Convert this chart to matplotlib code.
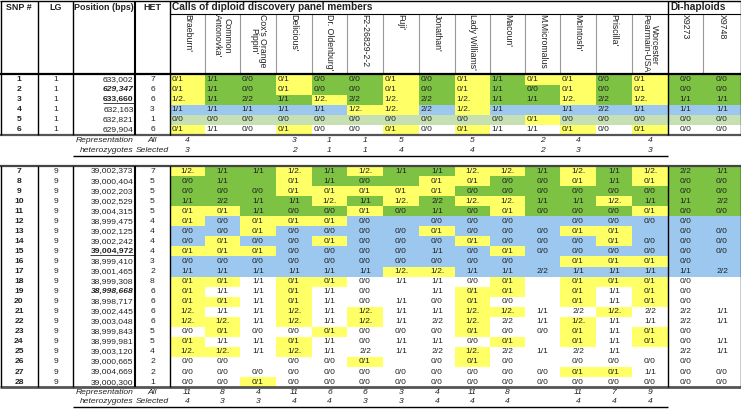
import matplotlib
matplotlib.use("Agg")
import matplotlib.pyplot as plt
from matplotlib.patches import Rectangle

plt.rcParams['font.family'] = ['Liberation Sans Narrow', 'Liberation Sans', 'DejaVu Sans']

# ── data ──────────────────────────────────────────────────────────────────────
cultivars = ["Braeburn'", "Common\nAntonovka'", "Cox's Orange\nPippin'", "Delicious'",
             "Dr. Oldenburg'", "F2-26829-2-2", "Fuji'", "Jonathan'", "Lady Williams'",
             "Macoun'", "M.Micromalus", "McIntosh'", "Priscilla'", "Worcester\nPearmain-USA'"]
dihaploids = ["X9273", "X9748"]

top_snp = [1, 2, 3, 4, 5, 6]
top_lg = [1, 1, 1, 1, 1, 1]
top_pos = ["633,002", "629,347", "633,660", "632,163", "632,821", "629,904"]
top_het = [7, 6, 6, 3, 1, 6]
top_group = ["green", "green", "green", "blue", "pale", "white"]
top_calls = [
    ["0/1", "1/1", "0/0", "0/1", "0/0", "0/0", "0/1", "0/0", "0/1", "1/1", "0/1", "0/1", "0/0", "0/1", "0/0", "0/0"],
    ["0/1", "1/1", "0/0", "0/1", "0/0", "0/0", "0/1", "0/0", "0/1", "1/1", "0/0", "0/1", "0/0", "0/1", "0/0", "0/0"],
    ["1/2.", "1/1", "2/2", "1/1", "1/2.", "2/2", "1/2.", "2/2", "1/2.", "1/1", "1/1", "1/2.", "2/2", "1/2.", "1/1", "1/1"],
    ["1/1", "1/1", "1/1", "1/1", "1/1", "1/2.", "1/2.", "2/2", "1/2.", "1/1", "", "1/1", "2/2", "1/1", "1/1", "1/1"],
    ["0/0", "0/0", "0/0", "0/0", "0/0", "0/0", "0/0", "0/0", "0/0", "0/0", "0/1", "0/0", "0/0", "0/0", "0/0", "0/0"],
    ["0/1", "1/1", "0/0", "0/1", "0/0", "0/0", "0/1", "0/0", "0/1", "1/1", "1/1", "0/1", "0/0", "0/1", "0/0", "0/0"],
]
top_rep_all = ["4", "", "", "3", "1", "1", "5", "", "5", "", "2", "4", "", "4"]
top_rep_sel = ["3", "", "", "2", "1", "1", "4", "", "4", "", "2", "3", "", "3"]

bot_snp = list(range(7, 29))
bot_lg = [9] * 22
bot_pos = ["39,002,373", "39,000,404", "39,002,203", "39,002,529", "39,004,315", "38,999,475",
           "39,002,125", "39,002,242", "39,004,972", "38,999,410", "39,001,465", "38,999,308",
           "38,998,668", "38,998,717", "39,002,445", "39,003,048", "38,999,843", "38,999,981",
           "39,003,120", "39,000,665", "39,004,669", "39,000,300"]
bot_het = [7, 5, 5, 5, 5, 4, 4, 4, 4, 3, 2, 8, 6, 6, 6, 6, 5, 5, 4, 2, 2, 1]
bot_group = ["green"] * 5 + ["blue"] * 6 + ["white"] * 11
bot_calls = [
    ["1/2.", "1/1", "1/1", "1/2.", "1/1", "1/2.", "1/1", "1/1", "1/2.", "1/2.", "1/1", "1/2.", "1/1", "1/2.", "2/2", "1/1"],
    ["0/0", "1/1", "", "0/1", "1/1", "0/0", "", "0/1", "0/1", "0/0", "0/0", "0/1", "1/1", "0/1", "0/0", "0/0"],
    ["0/0", "0/0", "0/0", "0/1", "0/1", "0/1", "0/1", "0/1", "0/0", "0/0", "0/0", "0/0", "0/0", "0/0", "0/0", "0/0"],
    ["1/1", "2/2", "1/1", "1/1", "1/2.", "1/1", "1/2.", "2/2", "1/2.", "1/2.", "1/1", "1/1", "1/2.", "1/1", "1/1", "2/2"],
    ["0/1", "0/1", "1/1", "0/0", "0/0", "0/1", "0/0", "1/1", "0/0", "0/1", "0/0", "0/0", "0/0", "0/1", "0/0", "0/0"],
    ["0/1", "0/0", "0/1", "0/1", "0/1", "0/0", "", "0/0", "0/0", "0/0", "", "0/0", "0/0", "0/0", "0/0", ""],
    ["0/0", "0/0", "0/1", "0/0", "0/0", "0/0", "0/0", "0/1", "0/0", "0/0", "0/0", "0/1", "0/1", "", "0/0", "0/0"],
    ["0/0", "0/1", "0/0", "0/0", "0/1", "0/0", "0/0", "0/0", "0/1", "0/0", "0/0", "0/0", "0/1", "0/0", "0/0", "0/0"],
    ["0/1", "0/1", "0/1", "0/0", "0/0", "0/0", "0/0", "1/1", "0/0", "0/1", "0/0", "0/0", "0/0", "0/0", "0/0", "0/0"],
    ["0/0", "0/0", "0/0", "0/0", "0/0", "0/0", "0/0", "0/0", "0/0", "0/0", "", "0/1", "0/1", "0/1", "0/0", ""],
    ["1/1", "1/1", "1/1", "1/1", "1/1", "1/1", "1/2.", "1/2.", "1/1", "1/1", "2/2", "1/1", "1/1", "1/1", "1/1", "2/2"],
    ["0/1", "0/1", "1/1", "0/1", "0/1", "0/0", "1/1", "1/1", "0/0", "0/1", "", "0/1", "0/1", "0/1", "0/0", ""],
    ["0/1", "1/1", "1/1", "0/1", "1/1", "0/0", "", "1/1", "0/1", "0/1", "", "0/1", "1/1", "0/1", "0/0", ""],
    ["0/1", "0/1", "1/1", "0/1", "1/1", "0/0", "1/1", "0/0", "0/1", "0/0", "", "0/1", "1/1", "0/1", "0/0", ""],
    ["1/2.", "1/1", "1/1", "1/2.", "1/1", "1/2.", "1/1", "1/1", "1/2.", "1/2.", "1/1", "2/2", "1/2.", "2/2", "2/2", "1/1"],
    ["1/2.", "1/2.", "1/1", "1/2.", "1/1", "1/2.", "1/1", "2/2", "1/2.", "2/2", "1/1", "1/2.", "1/1", "1/1", "2/2", "1/1"],
    ["0/0", "0/1", "0/0", "0/0", "0/1", "0/0", "0/0", "0/0", "0/1", "0/0", "0/0", "0/1", "1/1", "0/1", "0/0", ""],
    ["0/1", "1/1", "1/1", "0/1", "1/1", "0/0", "1/1", "1/1", "0/0", "0/1", "", "0/1", "1/1", "0/1", "0/0", "1/1"],
    ["1/2.", "1/2.", "1/1", "1/2.", "1/1", "2/2", "1/1", "2/2", "1/2.", "2/2", "1/1", "2/2", "1/1", "", "2/2", "1/1"],
    ["0/0", "0/0", "", "0/0", "0/0", "0/1", "", "0/0", "0/1", "0/0", "", "0/0", "0/0", "0/0", "0/0", ""],
    ["0/0", "0/0", "0/0", "0/0", "0/0", "0/0", "0/0", "0/0", "0/0", "0/0", "0/0", "0/1", "0/1", "1/1", "0/0", "0/0"],
    ["0/0", "0/0", "0/1", "0/0", "0/0", "0/0", "0/0", "0/0", "0/0", "0/0", "0/0", "0/0", "0/0", "0/0", "0/0", "0/0"],
]
bot_rep_all = ["11", "8", "4", "11", "6", "6", "3", "4", "11", "8", "", "11", "7", "9"]
bot_rep_sel = ["4", "3", "3", "4", "4", "3", "3", "4", "4", "4", "", "4", "4", "4"]

# positions shown bold-italic or bold-underlined
pos_bold_italic = ["629,347", "38,998,668"]
pos_bold_underline = ["633,660", "39,004,972"]

# ── styling ───────────────────────────────────────────────────────────────────
group_colors = {"green": "#7dc243", "blue": "#9cc8f0", "pale": "#c6e0b4", "white": "white"}
het_color = "#ffff66"
het_calls = ("0/1", "1/2.")

col_edges = [0, 38, 73, 135, 170, 205, 240, 276, 312, 347, 383, 419, 455, 490,
             525, 560, 596, 632, 668, 703, 741]
gcol = col_edges[4:]  # genotype column edges

W, H = 741, 409
fig = plt.figure(figsize=(W / 100, H / 100), dpi=100)
ax = fig.add_axes([0, 0, 1, 1])
ax.set_xlim(0, W)
ax.set_ylim(H, 0)
ax.axis('off')

fs = 6.1
txt_col = "#222222"


def draw_block(y0, rh, snp, lg, pos, het, groups, calls, centered):
    for i in range(len(snp)):
        yt = y0 + i * rh
        yc = yt + rh / 2
        for j, call in enumerate(calls[i]):
            x0, x1 = gcol[j], gcol[j + 1]
            fc = het_color if (call in het_calls and j < len(cultivars)) else group_colors[groups[i]]
            ax.add_patch(Rectangle((x0, yt), x1 - x0, rh, fc=fc, ec='none', zorder=1))
            if j >= len(cultivars) or centered:
                ax.text((x0 + x1) / 2, yc, call, ha='center', va='center', fontsize=fs, color=txt_col, zorder=3)
            else:
                ax.text(x0 + 1.5, yc, call, ha='left', va='center', fontsize=fs, color=txt_col, zorder=3)
        ax.text(19, yc, str(snp[i]), ha='center', va='center', fontsize=fs, weight='bold', color=txt_col, zorder=3)
        ax.text(55.5, yc, str(lg[i]), ha='center', va='center', fontsize=fs, color=txt_col, zorder=3)
        ax.text(152.5, yc, str(het[i]), ha='center', va='center', fontsize=fs, color=txt_col, zorder=3)
        p = pos[i]
        if p in pos_bold_italic:
            ax.text(133.5, yc, p, ha='right', va='center', fontsize=fs, weight='bold', style='italic', color=txt_col, zorder=3)
        elif p in pos_bold_underline:
            t = ax.text(133.5, yc, p, ha='right', va='center', fontsize=fs, weight='bold', color=txt_col, zorder=3)
            underlined.append((t, yc + 3.8))
        else:
            ax.text(133.5, yc, p, ha='right', va='center', fontsize=fs, color=txt_col, zorder=3)


def draw_rep(y1, y2, rep_all, rep_sel):
    ax.text(133.5, y1, "Representation", ha='right', va='center', fontsize=fs, style='italic', color=txt_col)
    ax.text(133.5, y2, "heterozygotes", ha='right', va='center', fontsize=fs, style='italic', color=txt_col)
    ax.text(152.5, y1, "All", ha='center', va='center', fontsize=fs, style='italic', color=txt_col)
    ax.text(152.5, y2, "Selected", ha='center', va='center', fontsize=fs, style='italic', color=txt_col)
    for j in range(len(cultivars)):
        xc = (gcol[j] + gcol[j + 1]) / 2
        ax.text(xc, y1, rep_all[j], ha='center', va='center', fontsize=fs, style='italic', color=txt_col)
        ax.text(xc, y2, rep_sel[j], ha='center', va='center', fontsize=fs, style='italic', color=txt_col)


underlined = []
top_y0, top_rh = 74.5, 10.0
bot_y0, bot_rh = 166.0, 10.05
draw_block(top_y0, top_rh, top_snp, top_lg, top_pos, top_het, top_group, top_calls, centered=False)
draw_block(bot_y0, bot_rh, bot_snp, bot_lg, bot_pos, bot_het, bot_group, bot_calls, centered=True)
draw_rep(140.7, 150.7, top_rep_all, top_rep_sel)
draw_rep(392.2, 401.9, bot_rep_all, bot_rep_sel)

# header
hfs = 6.4
ax.text(19, 7.5, "SNP #", ha='center', va='center', fontsize=hfs, weight='bold', color=txt_col)
ax.text(55.5, 7.5, "LG", ha='center', va='center', fontsize=hfs, weight='bold', color=txt_col)
ax.text(104, 7.5, "Position (bps)", ha='center', va='center', fontsize=hfs, weight='bold', color=txt_col)
ax.text(152.5, 7.5, "HET", ha='center', va='center', fontsize=hfs, weight='bold', color=txt_col)
ax.text(172, 7.5, "Calls of diploid discovery panel members", ha='left', va='center', fontsize=7.3,
        weight='bold', color=txt_col)
ax.text(670, 7.5, "Di-haploids", ha='left', va='center', fontsize=7.3, weight='bold', color=txt_col)
for j, name in enumerate(cultivars + dihaploids):
    xc = (gcol[j] + gcol[j + 1]) / 2
    ax.text(xc, 14.5, name, rotation=270, ha='center', va='top', fontsize=6.3, color=txt_col,
            linespacing=1.05, zorder=3)

# grid lines
k = dict(color='black', zorder=4)
ax.hlines(1, 0, W, lw=1.0, **k)
ax.hlines(13.5, 170, W, lw=0.8, **k)
ax.hlines(74, 0, W, lw=1.6, **k)
ax.hlines(134.5, 0, W, lw=1.6, color='#555555', zorder=4)
ax.hlines(155.7, 73, 668, lw=1.0, **k)
ax.hlines(166, 0, W, lw=1.6, color='#444444', zorder=4)
ax.hlines(386.8, 0, W, lw=2.0, color='#555555', zorder=4)
ax.hlines(406.7, 73, 668, lw=1.0, **k)
for x in [0.5, 38, 73, 135, 170, 668, 740.5]:
    lw = 1.5 if x == 135 else 1.0
    ax.vlines(x, 1, 134.5, lw=lw, **k)
    ax.vlines(x, 166, 386.8, lw=lw, **k)
for x in gcol[1:-1]:
    if x != 668:
        ax.vlines(x, 13.5, 74, lw=0.8, color='#999999', zorder=2)

# underline for bold-underlined positions
fig.canvas.draw()
r = fig.canvas.get_renderer()
inv = ax.transData.inverted()
for t, yu in underlined:
    bb = t.get_window_extent(renderer=r)
    (xa, _), (xb, _) = inv.transform([(bb.x0, bb.y0), (bb.x1, bb.y1)])
    ax.hlines(yu, xa, xb, lw=0.6, color=txt_col, zorder=4)

fig.savefig("out.png", dpi=100)
